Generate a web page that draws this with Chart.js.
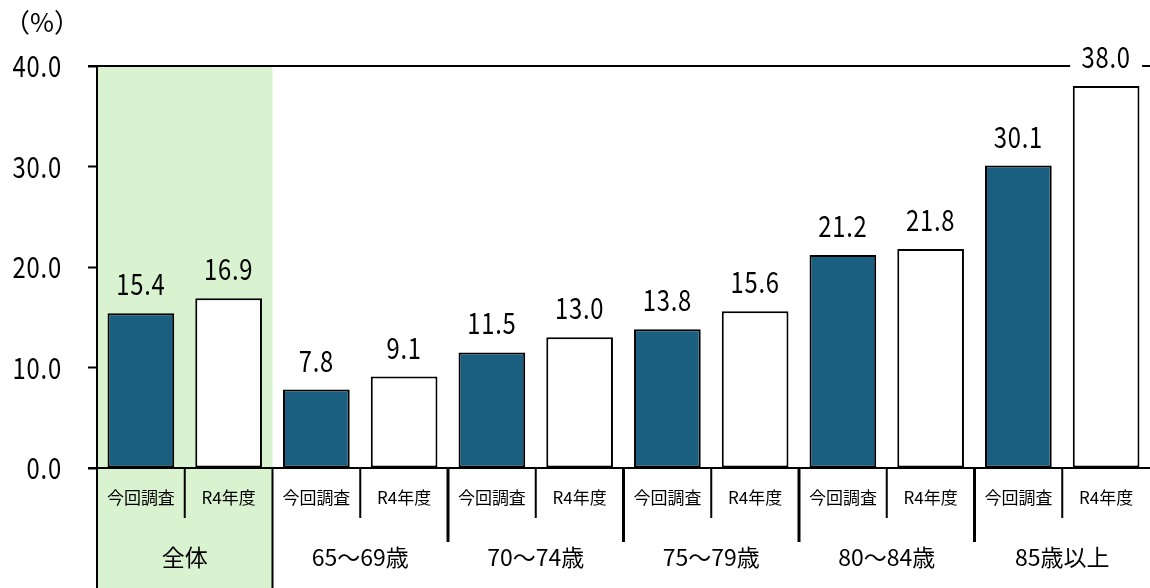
<!DOCTYPE html>
<html>
<head>
<meta charset="utf-8">
<script src="https://cdn.jsdelivr.net/npm/chart.js@4"></script>
<style>
  html, body { margin: 0; padding: 0; background: #fff; }
  #wrap { width: 1150px; height: 588px; position: relative; }
</style>
</head>
<body>
<div id="wrap"><canvas id="chart"></canvas></div>
<script>
// Data
const groups = ["全体", "65～69歳", "70～74歳", "75～79歳", "80～84歳", "85歳以上"];
const seriesNames = ["今回調査", "R4年度"];
const currentSurvey = [15.4, 7.8, 11.5, 13.8, 21.2, 30.1];
const r4Survey = [16.9, 9.1, 13.0, 15.6, 21.8, 38.0];
const yTicks = [0, 10, 20, 30, 40];

const jpFont = '"Noto Sans CJK JP", sans-serif';

// interleave the two series per age group
const labels = [];
const values = [];
const colors = [];
groups.forEach((g, i) => {
  labels.push(seriesNames[0]);
  values.push(currentSurvey[i]);
  colors.push("#1a5e80");
  labels.push(seriesNames[1]);
  values.push(r4Survey[i]);
  colors.push("#ffffff");
});

// condensed number text like the original
function drawNum(ctx, txt, x, y, align) {
  ctx.save();
  ctx.font = "29px " + jpFont;
  ctx.textBaseline = "middle";
  ctx.textAlign = align;
  ctx.letterSpacing = "1px";
  ctx.translate(x, y);
  ctx.scale(0.82, 1);
  ctx.fillText(txt, 0, 0);
  ctx.restore();
}

// green band, axis lines and two-row category labels
const decorPlugin = {
  id: "decor",
  beforeDraw(chart) {
    const ctx = chart.ctx;
    const x = chart.scales.x;
    const area = chart.chartArea;
    const step = x.getPixelForValue(1) - x.getPixelForValue(0);
    const left = x.getPixelForValue(0) - step / 2;
    ctx.save();
    ctx.fillStyle = "#d9f2d0";
    ctx.fillRect(left, area.top, step * 2, chart.height - area.top);
    ctx.restore();
  },
  afterDatasetsDraw(chart) {
    const ctx = chart.ctx;
    const x = chart.scales.x;
    const y = chart.scales.y;
    const area = chart.chartArea;
    const step = x.getPixelForValue(1) - x.getPixelForValue(0);
    ctx.save();
    ctx.strokeStyle = "#000";
    ctx.lineWidth = 2;
    // top frame line
    ctx.beginPath();
    ctx.moveTo(area.left - 9, area.top);
    ctx.lineTo(chart.width, area.top);
    ctx.stroke();
    // base line
    ctx.beginPath();
    ctx.moveTo(area.left - 9, area.bottom);
    ctx.lineTo(chart.width, area.bottom);
    ctx.stroke();

    // separators below axis
    for (let i = 1; i < labels.length; i++) {
      const px = x.getPixelForValue(0) - step / 2 + i * step;
      let bottom;
      ctx.lineWidth = 2;
      if (i === 2) bottom = chart.height;
      else if (i % 2 === 0) {
        bottom = area.bottom + 74;
        ctx.lineWidth = 3;
      } else bottom = area.bottom + 50;
      ctx.beginPath();
      ctx.moveTo(px, area.bottom);
      ctx.lineTo(px, bottom);
      ctx.stroke();
    }
    // y axis continues down past the first group
    ctx.lineWidth = 2;
    ctx.beginPath();
    ctx.moveTo(area.left, area.bottom);
    ctx.lineTo(area.left, chart.height);
    ctx.stroke();

    // y tick labels
    ctx.fillStyle = "#000";
    yTicks.forEach((v) => {
      drawNum(ctx, v.toFixed(1), 62, y.getPixelForValue(v), "right");
    });

    // sub labels
    ctx.textAlign = "center";
    ctx.textBaseline = "middle";
    ctx.font = "17px " + jpFont;
    labels.forEach((l, i) => {
      ctx.fillText(l, x.getPixelForValue(i), area.bottom + 30);
    });
    // group labels
    ctx.font = "23px " + jpFont;
    groups.forEach((g, i) => {
      const px = (x.getPixelForValue(i * 2) + x.getPixelForValue(i * 2 + 1)) / 2;
      ctx.fillText(g, px, area.bottom + 89);
    });

    // value labels
    const meta = chart.getDatasetMeta(0);
    meta.data.forEach((bar, i) => {
      const txt = values[i].toFixed(1);
      const cy = bar.y - 29;
      if (Math.abs(cy - area.top) < 14) {
        ctx.fillStyle = "#fff";
        ctx.fillRect(bar.x - 36, cy - 13, 72, 26);
        ctx.fillStyle = "#000";
      }
      drawNum(ctx, txt, bar.x, cy, "center");
    });

    // unit
    ctx.font = "26px " + jpFont;
    ctx.textAlign = "left";
    ctx.textBaseline = "middle";
    ctx.fillText("（%）", 4, 22);
    ctx.restore();
  },
};

new Chart(document.getElementById("chart"), {
  type: "bar",
  data: {
    labels: labels,
    datasets: [
      {
        data: values,
        backgroundColor: colors,
        borderColor: "#000",
        borderWidth: 2,
        borderSkipped: false,
        barPercentage: 0.76,
        categoryPercentage: 1,
      },
    ],
  },
  options: {
    responsive: true,
    maintainAspectRatio: false,
    animation: false,
    layout: {
      padding: { top: 66, bottom: 120, left: 0, right: 0 },
    },
    plugins: {
      legend: { display: false },
      tooltip: { enabled: false },
    },
    scales: {
      x: {
        display: false,
      },
      y: {
        min: 0,
        max: 40,
        afterFit: (s) => {
          s.width = 97;
        },
        afterBuildTicks: (s) => {
          s.ticks = yTicks.map((v) => ({ value: v }));
        },
        border: { color: "#000", width: 2 },
        grid: {
          drawOnChartArea: false,
          drawTicks: true,
          tickLength: 9,
          tickWidth: 2,
          tickColor: "#000",
        },
        ticks: {
          display: false,
        },
      },
    },
  },
  plugins: [decorPlugin],
});
</script>
</body>
</html>
